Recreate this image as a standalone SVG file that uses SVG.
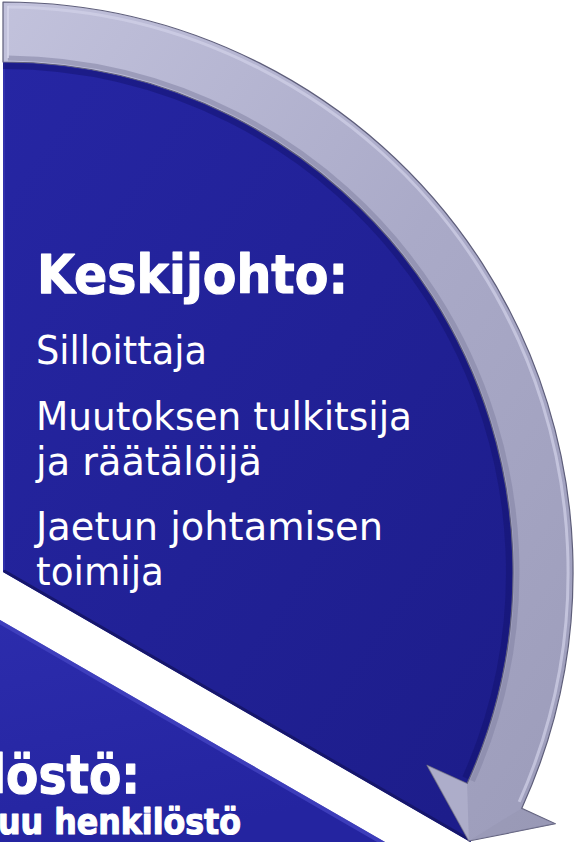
<svg xmlns="http://www.w3.org/2000/svg" width="574" height="842" viewBox="0 0 574 842">
<defs>
<linearGradient id="gTop" x1="0" y1="0" x2="1" y2="1">
<stop offset="0" stop-color="#2626a4"/>
<stop offset="1" stop-color="#1c1c88"/>
</linearGradient>
<linearGradient id="gBot" x1="0" y1="0" x2="0.4" y2="1">
<stop offset="0" stop-color="#2c2cac"/>
<stop offset="1" stop-color="#2424a0"/>
</linearGradient>
<linearGradient id="gArrow" x1="0" y1="0" x2="1" y2="1">
<stop offset="0" stop-color="#c2c2dc"/>
<stop offset="0.5" stop-color="#aaaac8"/>
<stop offset="1" stop-color="#9c9cba"/>
</linearGradient>
<style>
.h{font-family:"DejaVu Sans","Verdana",sans-serif;font-weight:bold;fill:#ffffff;stroke:#ffffff;stroke-width:1.2px;stroke-linejoin:round;}
.t{font-family:"DejaVu Sans","Verdana",sans-serif;fill:#ffffff;font-size:39px;}
</style>
</defs>
<rect width="574" height="842" fill="#ffffff"/>

<g id="node-henkilosto">
<polygon points="0,620 385,842 0,842" fill="url(#gBot)"/>
<line x1="-1" y1="621.7" x2="384" y2="843.7" stroke="#4646c4" stroke-width="4" opacity="0.75"/>
<text class="h" x="-10" y="793" font-size="54" textLength="150" lengthAdjust="spacingAndGlyphs">löstö:</text>
<text class="h" x="-2" y="834" font-size="36" textLength="243" lengthAdjust="spacingAndGlyphs">uu henkilöstö</text>
</g>

<g id="node-keskijohto">
<path d="M3,572 L3,32 A540,540 0 0 1 470.6,842 Z" fill="url(#gTop)"/>
<line x1="3.8" y1="570.7" x2="471" y2="840.7" stroke="#16166c" stroke-width="3"/>
<line x1="4" y1="40" x2="4" y2="570" stroke="#3a3ab4" stroke-width="2" opacity="0.6"/>
<text class="h" x="37" y="293" font-size="54" textLength="311" lengthAdjust="spacingAndGlyphs">Keskijohto:</text>
<text class="t" x="36" y="364" textLength="171" lengthAdjust="spacingAndGlyphs">Silloittaja</text>
<text class="t" x="36" y="430" textLength="376" lengthAdjust="spacingAndGlyphs">Muutoksen tulkitsija</text>
<text class="t" x="36" y="475" textLength="226" lengthAdjust="spacingAndGlyphs">ja räätälöijä</text>
<text class="t" x="36" y="540" textLength="347" lengthAdjust="spacingAndGlyphs">Jaetun johtamisen</text>
<text class="t" x="36" y="585" textLength="128" lengthAdjust="spacingAndGlyphs">toimija</text>
</g>

<g id="connectors">
<path d="M3,66 A506,506 0 0 1 465.2,777.8" fill="none" stroke="#12126a" stroke-width="6" opacity="0.45"/>
<path d="M3,2 A570,570 0 0 1 521.7,808.4 L555.3,823.7 L468.9,841 L427,765.2 L467.1,783.5 A510,510 0 0 0 3,62 Z" fill="url(#gArrow)" stroke="#5e5e7a" stroke-width="1.2" stroke-linejoin="round"/>
<path d="M8,7 A565,565 0 0 1 519.2,801.8" fill="none" stroke="#d2d2e8" stroke-width="3" opacity="0.7"/>
<path d="M8,58 A514,514 0 0 1 472.5,781" fill="none" stroke="#8484a4" stroke-width="5" opacity="0.55"/>
<line x1="8" y1="6" x2="8" y2="58" stroke="#d6d6ec" stroke-width="2" opacity="0.8"/>
<polygon points="427,765.2 467.1,783.5 468.9,841" fill="#b8b8d4" opacity="0.55"/>
<polygon points="521.7,808.4 555.3,823.7 468.9,841" fill="#9494b2" opacity="0.45"/>
</g>
</svg>
